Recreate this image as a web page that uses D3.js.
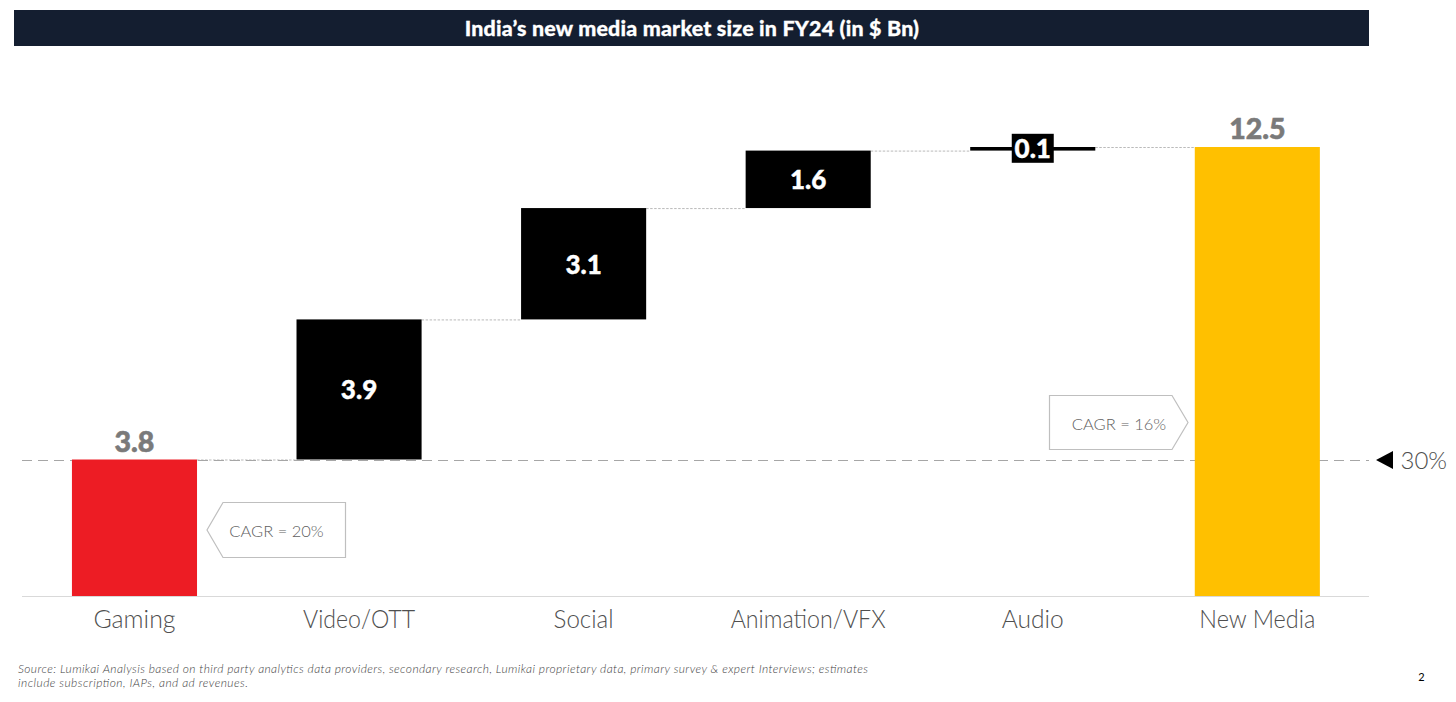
<!DOCTYPE html>
<html><head><meta charset="utf-8">
<script src="https://cdn.jsdelivr.net/npm/d3@7"></script>
<style>html,body{margin:0;background:#fff}svg{display:block}text{font-family:Lato,sans-serif}</style>
</head><body><div id="c"></div>
<script>
const categories=["Gaming","Video/OTT","Social","Animation/VFX","Audio","New Media"];
const values=[3.8,3.9,3.1,1.6,0.1,12.5];
const kinds=["total","step","step","step","step","total"];
const colors=["#ed1c24","#000000","#000000","#000000","#000000","#ffc000"];
const titleText="India’s new media market size in FY24 (in $ Bn)";
const cagrLabels=["CAGR = 20%","CAGR = 16%"];
const refLabel="30%";
const sourceLines=["Source: Lumikai Analysis based on third party analytics data providers, secondary research, Lumikai proprietary data, primary survey & expert Interviews; estimates","include subscription, IAPs, and ad revenues."];
const pageNumber="2";

const W=1456,H=702;
const catTextWidth={"Gaming":82,"Video/OTT":112,"Social":60,"Animation/VFX":155,"Audio":62,"New Media":116};
const svg=d3.select("#c").append("svg").attr("width",W).attr("height",H);
const x=d3.scaleBand().domain(categories).range([22.2,1369.6]).paddingInner(.443).paddingOuter(.2215);
const y=d3.scaleLinear().domain([0,12.5]).range([596,147]);

let run=0;
const bars=categories.map((c,i)=>{
  const base=kinds[i]==="total"?0:run;
  const top=base+values[i];
  run=top;
  return {c,v:values[i],base,top,color:colors[i],kind:kinds[i]};
});

// title band
svg.append("rect").attr("x",14).attr("y",10).attr("width",1355).attr("height",36).attr("fill","#141e30");
svg.append("text").attr("x",692).attr("y",36).attr("text-anchor","middle").attr("fill","#fff")
  .attr("stroke","#fff").attr("stroke-width",.3).attr("letter-spacing",.2)
  .attr("font-size",21.4).attr("font-weight",900).text(titleText);

// dashed reference line, under the bars
svg.append("line").attr("x1",22).attr("x2",1369).attr("y1",460.5).attr("y2",460.5)
  .attr("stroke","#a6a6a6").attr("stroke-width",1).attr("stroke-dasharray","10 6");

// connectors
bars.slice(0,-1).forEach((b,i)=>{
  const n=bars[i+1];
  svg.append("line").attr("x1",x(b.c)+x.bandwidth()).attr("x2",x(n.c))
    .attr("y1",y(b.top)+.5).attr("y2",y(b.top)+.5)
    .attr("stroke","#a8a8a8").attr("stroke-width",.8).attr("stroke-dasharray","2.5 1.5");
});

// bars
svg.selectAll("rect.bar").data(bars).join("rect").attr("class","bar")
  .attr("x",d=>x(d.c)).attr("width",x.bandwidth())
  .attr("y",d=>y(d.top)).attr("height",d=>y(d.base)-y(d.top)).attr("fill",d=>d.color);

// baseline
svg.append("line").attr("x1",22).attr("x2",1369).attr("y1",596.5).attr("y2",596.5).attr("stroke","#d9d9d9").attr("stroke-width",1);

// category labels
svg.selectAll("text.cat").data(bars).join("text").attr("class","cat")
  .attr("x",d=>x(d.c)+x.bandwidth()/2).attr("y",628).attr("text-anchor","middle")
  .attr("font-size",24.5).attr("font-weight",300).attr("fill","#4f4f4f")
  .attr("textLength",d=>catTextWidth[d.c]).attr("lengthAdjust","spacingAndGlyphs").text(d=>d.c);

// value labels
bars.forEach(b=>{
  const cx=x(b.c)+x.bandwidth()/2;
  if(b.kind==="total"){
    svg.append("text").attr("x",cx).attr("y",y(b.top)-8).attr("text-anchor","middle")
      .attr("font-size",28.5).attr("font-weight",900).attr("fill","#7a7a7a")
      .attr("stroke","#7a7a7a").attr("stroke-width",.6).text(b.v.toFixed(1));
  } else if(b.v<0.5){
    const my=(y(b.top)+y(b.base))/2;
    svg.append("rect").attr("x",cx-21).attr("width",42).attr("y",my-15).attr("height",29).attr("fill","#000");
    svg.append("text").attr("x",cx).attr("y",my+9.5).attr("text-anchor","middle")
      .attr("font-size",26).attr("font-weight",900).attr("fill","#fff")
      .attr("stroke","#fff").attr("stroke-width",.4).text(b.v.toFixed(1));
  } else {
    svg.append("text").attr("x",cx).attr("y",(y(b.top)+y(b.base))/2+9.8).attr("text-anchor","middle")
      .attr("font-size",26).attr("font-weight",900).attr("fill","#fff")
      .attr("stroke","#fff").attr("stroke-width",.4).text(b.v.toFixed(1));
  }
});

// CAGR callouts
const callout=d3.line();
svg.append("path").attr("d",callout([[345.5,502.5],[223,502.5],[207,530],[223,557.5],[345.5,557.5]])+"Z")
  .attr("fill","#fff").attr("stroke","#bfbfbf").attr("stroke-width",1.2);
svg.append("text").attr("x",276.5).attr("y",537).attr("text-anchor","middle").attr("font-size",16.5).attr("font-weight",300).attr("fill","#5f5f5f").text(cagrLabels[0]);
svg.append("path").attr("d",callout([[1049.5,395.5],[1172,395.5],[1188,422.5],[1172,449.5],[1049.5,449.5]])+"Z")
  .attr("fill","#fff").attr("stroke","#bfbfbf").attr("stroke-width",1.2);
svg.append("text").attr("x",1119).attr("y",430).attr("text-anchor","middle").attr("font-size",16.5).attr("font-weight",300).attr("fill","#5f5f5f").text(cagrLabels[1]);

// 30% marker
svg.append("path").attr("d",d3.line()([[1376,460],[1393,451],[1393,469]])+"Z").attr("fill","#000");
svg.append("text").attr("x",1400.5).attr("y",469).attr("font-size",24).attr("font-weight",300).attr("fill","#4f4f4f").text(refLabel);

// source
svg.selectAll("text.src").data(sourceLines).join("text").attr("class","src")
  .attr("x",18).attr("y",(d,i)=>672.5+i*14.5).attr("font-size",12).attr("font-style","italic").attr("font-weight",300)
  .attr("fill","#3f3f3f").attr("textLength",(d,i)=>i?230:850).attr("lengthAdjust","spacing").text(d=>d);
svg.append("text").attr("x",1421.5).attr("y",681).attr("text-anchor","middle").attr("font-size",11).attr("fill","#000").text(pageNumber);
</script></body></html>
